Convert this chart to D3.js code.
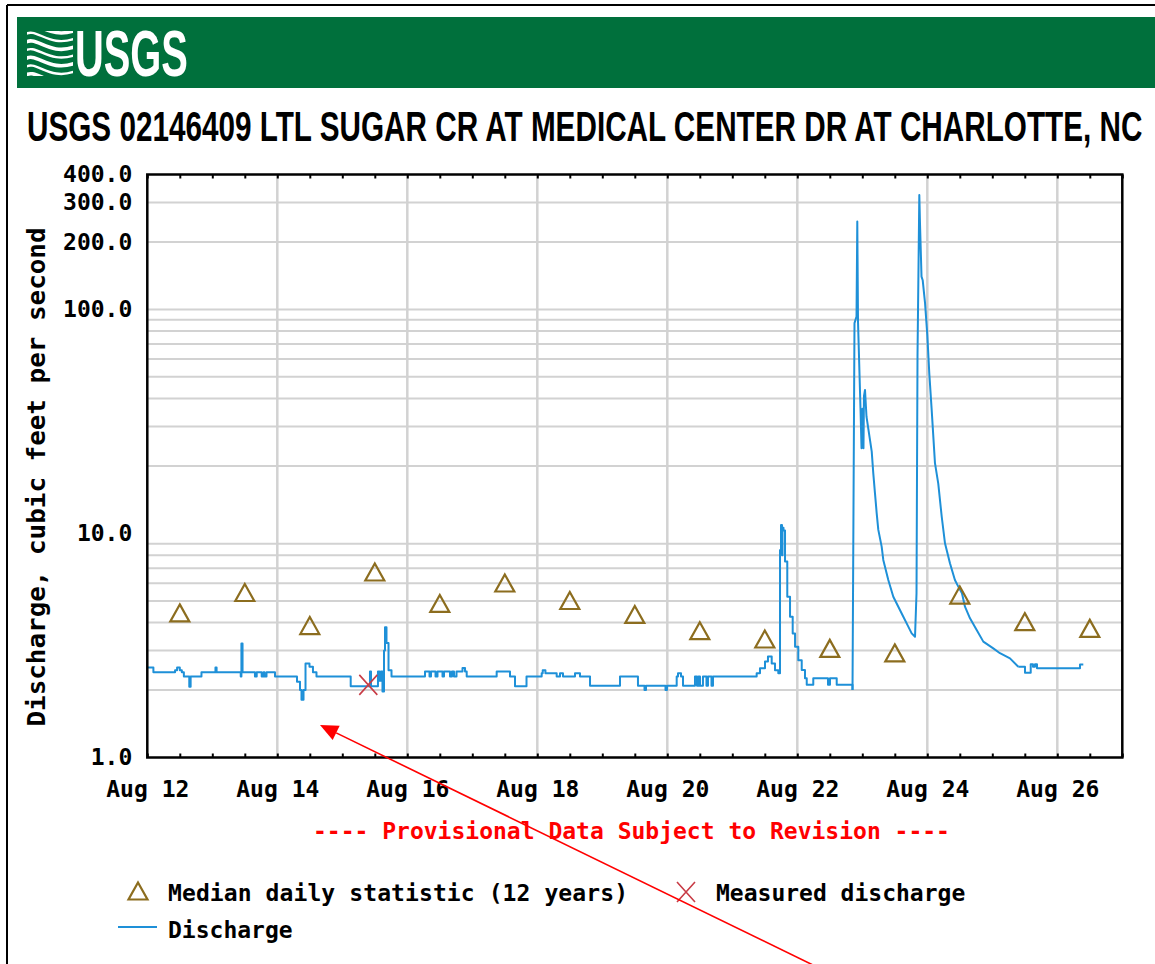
<!DOCTYPE html>
<html><head><meta charset="utf-8">
<script src="https://cdn.jsdelivr.net/npm/d3@7"></script>
<style>
body{margin:0;background:#fff}
svg{display:block}
.mono{font-family:"DejaVu Sans Mono",monospace;font-weight:bold;font-size:23px}
</style>
</head><body>
<svg id="chart" width="1155" height="964"></svg>
<script>
// ---------------- data ----------------
const title = "USGS 02146409 LTL SUGAR CR AT MEDICAL CENTER DR AT CHARLOTTE, NC";
const yTickValues = [1, 10, 100, 200, 300, 400];
const yTickLabels = ["1.0", "10.0", "100.0", "200.0", "300.0", "400.0"];
const gridValues = [2,3,4,5,6,7,8,9,20,30,40,50,60,70,80,90,100,200,300];
const xTickDays = ["08-12","08-14","08-16","08-18","08-20","08-22","08-24","08-26"];
const xTickLabels = ["Aug 12","Aug 14","Aug 16","Aug 18","Aug 20","Aug 22","Aug 24","Aug 26"];

const medianDays = ["08-12","08-13","08-14","08-15","08-16","08-17","08-18","08-19","08-20","08-21","08-22","08-23","08-24","08-25","08-26"];
const medianValues = [4.42, 5.45, 3.88, 6.73, 4.87, 6.01, 5.02, 4.35, 3.68, 3.38, 3.07, 2.93, 5.31, 4.04, 3.77];

const measuredTimes = ["08-15 09:36"];
const measuredValues = [2.11];

const dischargeTimes = [
"08-12 00:00","08-12 02:15","08-12 10:15","08-12 11:00","08-12 12:00","08-12 12:45","08-12 13:30","08-12 15:30","08-12 16:00","08-12 20:00",
"08-13 01:10","08-13 01:35","08-13 10:30","08-13 10:45","08-13 11:10","08-13 15:45","08-13 16:24","08-13 18:14","08-13 18:55","08-13 19:16","08-13 20:01","08-13 23:09",
"08-14 07:16","08-14 08:23","08-14 08:56","08-14 09:41","08-14 10:25","08-14 11:53","08-14 13:10","08-14 14:28",
"08-15 03:06","08-15 10:13","08-15 10:36","08-15 13:10","08-15 13:44","08-15 14:17","08-15 14:50","08-15 15:24","08-15 15:46","08-15 16:19","08-15 17:04","08-15 18:10",
"08-16 06:32","08-16 08:12","08-16 08:45","08-16 10:25","08-16 11:09","08-16 13:00","08-16 13:33","08-16 15:46","08-16 16:30","08-16 17:14","08-16 18:10","08-16 20:23","08-16 21:19","08-16 21:56",
"08-17 09:00","08-17 13:55","08-17 15:46","08-17 20:01",
"08-18 01:37","08-18 02:00","08-18 03:00","08-18 07:09","08-18 08:23","08-18 09:29","08-18 13:55","08-18 15:46","08-18 19:28",
"08-19 06:32","08-19 13:10","08-19 15:35","08-19 16:08","08-19 23:20","08-19 23:53",
"08-20 03:28","08-20 03:57","08-20 05:04","08-20 05:48","08-20 10:13","08-20 10:58","08-20 11:31","08-20 12:04","08-20 13:10","08-20 14:28","08-20 15:01","08-20 16:19","08-20 16:52",
"08-21 09:00","08-21 10:13","08-21 12:04","08-21 13:10","08-21 14:33","08-21 15:46","08-21 16:59","08-21 17:37","08-21 17:59","08-21 18:21","08-21 18:32","08-21 18:54","08-21 19:28","08-21 20:18","08-21 21:19","08-21 22:18","08-21 23:10",
"08-22 00:22","08-22 01:38","08-22 02:50","08-22 03:29","08-22 05:54","08-22 11:20","08-22 12:04","08-22 14:33","08-22 20:23","08-22 21:07","08-22 21:52","08-22 22:09","08-22 22:25","08-22 23:20","08-22 23:43",
"08-23 00:04","08-23 00:26","08-23 00:37","08-23 01:00","08-23 01:33","08-23 03:29","08-23 04:03","08-23 04:41","08-23 05:19","08-23 05:54","08-23 07:09","08-23 07:45","08-23 09:36","08-23 11:27","08-23 13:18","08-23 15:09","08-23 16:59","08-23 18:14","08-23 19:28","08-23 20:01","08-23 20:23","08-23 21:03","08-23 21:19","08-23 21:52","08-23 22:18","08-23 23:10",
"08-24 00:00","08-24 00:44","08-24 01:37","08-24 02:50","08-24 04:03","08-24 05:19","08-24 06:32","08-24 08:22","08-24 10:12","08-24 11:27","08-24 12:48","08-24 13:55","08-24 15:46","08-24 18:14","08-24 20:41",
"08-25 00:22","08-25 02:50","08-25 06:32","08-25 09:36","08-25 12:04","08-25 14:11","08-25 15:01","08-25 15:46","08-25 16:30",
"08-26 08:23","08-26 09:36"
];
const dischargeValues = [
2.52,2.40,2.45,2.52,2.45,2.40,2.30,2.07,2.30,2.40,
2.52,2.40,2.30,3.23,2.40,2.30,2.40,2.30,2.40,2.30,2.40,2.30,
2.18,2.00,1.81,2.00,2.63,2.54,2.40,2.30,
2.08,2.42,2.08,2.42,2.20,2.42,1.97,3.00,3.81,3.24,2.45,2.30,
2.42,2.30,2.42,2.30,2.42,2.30,2.42,2.30,2.42,2.30,2.42,2.51,2.42,2.30,
2.42,2.30,2.08,2.30,
2.38,2.45,2.38,2.30,2.38,2.30,2.38,2.30,2.09,
2.30,2.09,2.00,2.09,2.00,2.09,
2.30,2.38,2.30,2.09,2.30,2.09,2.30,2.09,2.30,2.09,2.30,2.09,2.30,
2.38,2.50,2.68,2.82,2.63,2.45,2.38,8.44,10.9,8.0,10.6,10.3,7.49,5.22,4.25,3.58,3.12,
2.72,2.46,2.26,2.11,2.26,2.11,2.26,2.11,2.00,86.8,92.9,247,88,36.2,24.0,
36,24,41,43.7,33.2,23.2,18.6,15.1,12.3,10.4,8.73,7.62,6.20,5.22,4.71,4.25,3.84,3.58,3.46,5.41,61.5,324,238,140,135,106.6,
77,51.9,35.6,20.6,16.7,11.9,9.04,7.36,6.20,5.79,5.41,4.71,4.18,3.71,3.29,
3.07,2.92,2.77,2.54,2.39,2.61,2.54,2.61,2.50,
2.60,2.60
];
// storm period drawn with straight segments (rapid recession), rest as stepped record
const stormStart = "08-22 20:23", stormEnd = "08-25 09:36";

// ---------------- setup ----------------
const svg = d3.select("#chart");
const parseT = d3.utcParse("%m-%d %H:%M");
const parseD = d3.utcParse("%m-%d");
const L = 147.3, R = 1122.3, T = 174.5, B = 757.5;
const x = d3.scaleUtc().domain([parseT("08-12 00:00"), parseT("08-27 00:00")]).range([L, R]);
const y = d3.scaleLog().domain([1, 400]).range([B, T]);

function fitText(sel, x0, yb, width) {
  const w = sel.node().getComputedTextLength();
  sel.attr("transform", `translate(${x0},${yb}) scale(${width / w},1)`);
}

// outer frame
svg.append("line").attr("x1",7).attr("y1",5).attr("x2",7).attr("y2",964).attr("stroke","#000").attr("stroke-width",2);
svg.append("line").attr("x1",7).attr("y1",5).attr("x2",1155).attr("y2",5).attr("stroke","#000").attr("stroke-width",2);

// banner
svg.append("rect").attr("x",17).attr("y",17).attr("width",1140).attr("height",71).attr("fill","#00703c");
const logo = svg.append("g");
logo.append("clipPath").attr("id","lc").append("rect").attr("x",27).attr("y",31).attr("width",46).attr("height",45);
const lg = logo.append("g").attr("clip-path","url(#lc)");
for (let i = 0; i < 7; i++) {
  const y0 = 27 + i * 8.2;
  lg.append("path")
    .attr("d", `M24,${y0} C36,${y0-10} 48,${y0+14} 76,${y0+3}`)
    .attr("fill","none").attr("stroke","#fff").attr("stroke-width", i % 2 ? 2.4 : 3.6);
}
const usgs = svg.append("text")
  .style("font-family","'Liberation Sans Narrow','Arial Narrow','Liberation Sans',sans-serif")
  .style("font-weight","bold").style("font-size","64px").attr("fill","#fff").text("USGS");
fitText(usgs, 75, 76, 113);

// title
const tt0 = svg.append("text")
  .style("font-family","'Liberation Sans Narrow','Arial Narrow','Liberation Sans',sans-serif")
  .style("font-weight","bold").style("font-size","42px").attr("fill","#000").text(title);
fitText(tt0, 27, 141, 1116);

// gridlines
svg.append("g").selectAll("line").data(gridValues).join("line")
  .attr("x1",L).attr("x2",R).attr("y1",d=>y(d)).attr("y2",d=>y(d))
  .attr("stroke","#d2d2d2").attr("stroke-width",2);
svg.append("g").selectAll("line").data(xTickDays.slice(1)).join("line")
  .attr("x1",d=>x(parseD(d))).attr("x2",d=>x(parseD(d))).attr("y1",T).attr("y2",B)
  .attr("stroke","#d2d2d2").attr("stroke-width",2.5);

// discharge line
const dis = dischargeTimes.map((t,i)=>({t:parseT(t), v:dischargeValues[i]}));
const i0 = dischargeTimes.indexOf(stormStart), i1 = dischargeTimes.indexOf(stormEnd);
const stepLine = d3.line().x(d=>x(d.t)).y(d=>y(d.v)).curve(d3.curveStepAfter);
const linLine = d3.line().x(d=>x(d.t)).y(d=>y(d.v));
const lineStyle = p => p.attr("fill","none").attr("stroke","#1e90d8").attr("stroke-width",2).attr("stroke-linejoin","round");
svg.append("path").datum(dis.slice(0, i0 + 1)).attr("d", stepLine).call(lineStyle);
svg.append("path").datum(dis.slice(i0, i1 + 1)).attr("d", linLine).call(lineStyle);
svg.append("path").datum(dis.slice(i1)).attr("d", stepLine).call(lineStyle);

// median triangles
const triPath = "M0,-8.5 L9.5,8.5 L-9.5,8.5 Z";
svg.append("g").selectAll("path").data(medianDays).join("path")
  .attr("transform",(d,i)=>`translate(${x(d3.utcHour.offset(parseD(d),12))},${y(medianValues[i])})`)
  .attr("d",triPath).attr("fill","none").attr("stroke","#8c6d1f").attr("stroke-width",2.2);

// measured
function drawX(g, cx, cy) {
  g.append("path").attr("d",`M${cx-9},${cy-10}L${cx+9},${cy+10}M${cx-9},${cy+10}L${cx+9},${cy-10}`)
    .attr("stroke","#c83c46").attr("stroke-width",1.6).attr("fill","none");
}
const mg = svg.append("g");
measuredTimes.forEach((t,i)=>drawX(mg, x(parseT(t)), y(measuredValues[i])));

// plot frame
svg.append("rect").attr("x",L).attr("y",T).attr("width",R-L).attr("height",B-T)
  .attr("fill","none").attr("stroke","#000").attr("stroke-width",2.5);

// minor ticks (inward)
const minor = x.ticks(d3.utcHour.every(12));
const bt = svg.append("g").attr("transform",`translate(0,${B})`)
  .call(d3.axisBottom(x).tickValues(minor).tickSize(-4).tickFormat(""));
bt.select(".domain").remove();
bt.selectAll("line").attr("stroke-width",2);
const tt = svg.append("g").attr("transform",`translate(0,${T})`)
  .call(d3.axisTop(x).tickValues(minor).tickSize(-4).tickFormat(""));
tt.select(".domain").remove();
tt.selectAll("line").attr("stroke-width",2);

// x labels
const xl = svg.append("g").attr("transform",`translate(0,${B})`)
  .call(d3.axisBottom(x).tickValues(xTickDays.map(d=>parseD(d))).tickSize(0).tickPadding(23)
    .tickFormat((d,i)=>xTickLabels[i]));
xl.select(".domain").remove();
xl.selectAll("text").attr("fill","#000").style("font-family","'DejaVu Sans Mono',monospace").style("font-weight","bold").style("font-size","23px");

// y labels
const yl = svg.append("g").attr("transform",`translate(${L},0)`)
  .call(d3.axisLeft(y).tickValues(yTickValues).tickSize(0).tickPadding(15)
    .tickFormat((d,i)=>yTickLabels[i]));
yl.select(".domain").remove();
yl.selectAll("text").attr("fill","#000").style("font-family","'DejaVu Sans Mono',monospace").style("font-weight","bold").style("font-size","23px");

// y title
svg.append("text").attr("class","mono")
  .attr("transform","translate(45,477) rotate(-90)")
  .attr("text-anchor","middle").attr("textLength",499).attr("lengthAdjust","spacingAndGlyphs")
  .attr("fill","#000").style("font-size","24px")
  .text("Discharge, cubic feet per second");

// provisional note
svg.append("text").attr("class","mono").attr("x",631.5).attr("y",839)
  .attr("text-anchor","middle").attr("fill","#ff0000")
  .text("---- Provisional Data Subject to Revision ----");

// legend
svg.append("path").attr("transform","translate(138,891)").attr("d",triPath)
  .attr("fill","none").attr("stroke","#8c6d1f").attr("stroke-width",2.2);
svg.append("text").attr("class","mono").attr("x",168).attr("y",901).attr("fill","#000")
  .attr("textLength",460).attr("lengthAdjust","spacing")
  .text("Median daily statistic (12 years)");
drawX(svg.append("g"), 686, 892);
svg.append("text").attr("class","mono").attr("x",716).attr("y",901).attr("fill","#000")
  .text("Measured discharge");
svg.append("line").attr("x1",118).attr("x2",157).attr("y1",927).attr("y2",927)
  .attr("stroke","#1e90d8").attr("stroke-width",2);
svg.append("text").attr("class","mono").attr("x",168).attr("y",938).attr("fill","#000")
  .text("Discharge");

// red annotation arrow
const tip = [320, 725], tail = [815, 966];
const dx = tail[0]-tip[0], dy = tail[1]-tip[1], len = Math.hypot(dx,dy);
const ux = dx/len, uy = dy/len, nx = -uy, ny = ux;
const bx = tip[0]+18*ux, by = tip[1]+18*uy;
svg.append("line").attr("x1",tail[0]).attr("y1",tail[1]).attr("x2",bx).attr("y2",by)
  .attr("stroke","#ff0000").attr("stroke-width",1.6);
svg.append("path").attr("d",`M${tip[0]},${tip[1]}L${bx+8*nx},${by+8*ny}L${bx-8*nx},${by-8*ny}Z`)
  .attr("fill","#ff0000");
</script>
</body></html>
